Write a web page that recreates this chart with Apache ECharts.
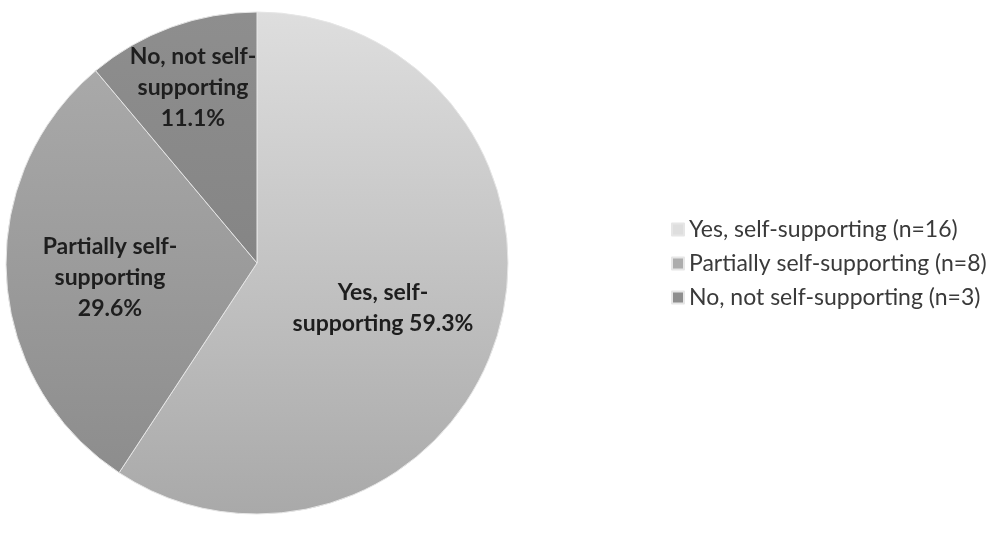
<!DOCTYPE html>
<html>
<head>
<meta charset="utf-8">
<script src="https://cdn.jsdelivr.net/npm/echarts@6/dist/echarts.min.js"></script>
<style>
html,body{margin:0;padding:0;background:#fff;}
#chart{width:1007px;height:539px;}
</style>
</head>
<body>
<div id="chart"></div>
<script>
const categories = ["Yes, self-supporting (n=16)", "Partially self-supporting (n=8)", "No, not self-supporting (n=3)"];
const counts = [16, 8, 3];
const sliceLabels = ["Yes, self-\nsupporting {d}%", "Partially self-\nsupporting\n{d}%", "No, not self-\nsupporting\n{d}%"];
const topColors = ["#dedede", "#adadad", "#8e8e8e"];
const bottomColors = ["#a9a9a9", "#8a8a8a", "#7c7c7c"];
const labelPos = [[383, 308], [110, 278], [193, 88]];

const chart = echarts.init(document.getElementById('chart'), null, {renderer: 'canvas'});
const cx = 257, cy = 263, r = 251;

chart.setOption({
  animation: false,
  backgroundColor: '#ffffff',
  legend: {
    orient: 'vertical',
    left: 666,
    top: 213,
    itemWidth: 12,
    itemHeight: 12,
    itemGap: 11,
    icon: 'rect',
    textStyle: {fontFamily: 'Lato', fontSize: 23, color: '#3a3a3a'},
    data: categories
  },
  series: [{
    type: 'pie',
    center: [cx, cy],
    radius: [0, r],
    startAngle: 90,
    clockwise: true,
    percentPrecision: 1,
    label: {
      position: 'inside',
      fontFamily: 'Lato',
      fontWeight: 'bold',
      fontSize: 23,
      lineHeight: 31,
      color: '#1e1e1e',
      align: 'center'
    },
    labelLayout: function (p) {
      return {x: labelPos[p.dataIndex][0], y: labelPos[p.dataIndex][1], align: 'center', verticalAlign: 'middle'};
    },
    itemStyle: {borderColor: '#e6e6e6', borderWidth: 1},
    emphasis: {disabled: true},
    data: categories.map((name, i) => ({
      name: name,
      value: counts[i],
      label: {formatter: sliceLabels[i]},
      itemStyle: {
        color: new echarts.graphic.LinearGradient(0, cy - r, 0, cy + r, [
          {offset: 0, color: topColors[i]},
          {offset: 1, color: bottomColors[i]}
        ], true)
      }
    }))
  }]
});
</script>
</body>
</html>
